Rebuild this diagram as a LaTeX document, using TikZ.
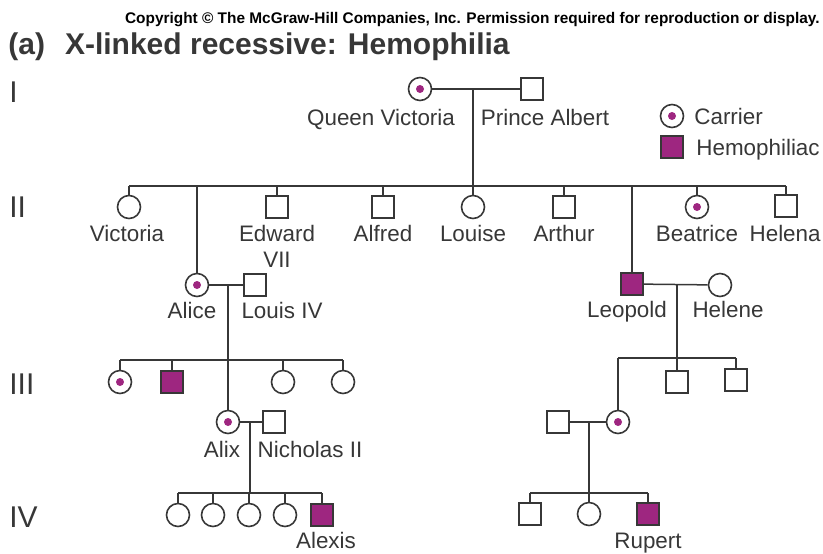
\documentclass[tikz,border=0pt]{standalone}
\usepackage{fontspec}
\setmainfont{Liberation Sans}
\usetikzlibrary{positioning,calc}
\definecolor{hemo}{RGB}{158,38,128}
\definecolor{ink}{RGB}{55,55,55}

\begin{document}
\begin{tikzpicture}[
  x=0.5pt, y=-0.5pt,
  female/.style={circle, draw=ink, line width=0.8pt, minimum size=11.5pt, inner sep=0pt},
  male/.style={rectangle, draw=ink, line width=0.8pt, minimum size=11pt, inner sep=0pt},
  carrier/.style={female, path picture={\fill[hemo] (path picture bounding box.center) circle (2pt);}},
  affected/.style={male, fill=hemo},
  link/.style={draw=ink, line width=0.75pt},
  lbl/.style={anchor=base, inner sep=0pt, text=ink, font=\fontsize{11.2}{13}\selectfont},
  gen/.style={anchor=base west, inner sep=0pt, text=ink, font=\fontsize{15}{18}\selectfont}
]
  \useasboundingbox (0,0) rectangle (823,553);

  \node[anchor=base east, inner sep=0pt, text=black, font=\bfseries\fontsize{7.7}{9}\selectfont] (copy) at (820,23)
    {Copyright \textcopyright{} The McGraw-Hill Companies, Inc. Permission required for reproduction or display.};
  \node[anchor=base west, inner sep=0pt, text=ink, font=\bfseries\fontsize{15}{18}\selectfont] (title) at (8,54)
    {(a)\hspace{10pt}X-linked recessive: Hemophilia};

  \node[gen] (g1) at (9,102) {I};
  \node[gen] (g2) at (9,217) {II};
  \node[gen] (g3) at (9,394) {III};
  \node[gen] (g4) at (9,527) {IV};

  % key
  \node[carrier] (keyc) at (672,116) {};
  \node[affected] (keyh) at (672,147) {};
  \node[lbl, anchor=base west] (keyctxt) at (694,124) {Carrier};
  \node[lbl, anchor=base west] (keyhtxt) at (696,155) {Hemophiliac};

  % generation I
  \node[carrier] (qv) at (420,89) {};
  \node[male] (albert) at (532,89) {};
  \node[lbl] (qvtxt) at (381,125) {Queen Victoria};
  \node[lbl] (alberttxt) at (545,125) {Prince Albert};

  % generation II
  \node[female] (vic) at (129,207) {};
  \node[male] (edward) at (277,207) {};
  \node[male] (alfred) at (383,207) {};
  \node[female] (louise) at (473,207) {};
  \node[male] (arthur) at (564,207) {};
  \node[carrier] (beatrice) at (697,207) {};
  \node[male] (helena) at (786,206) {};
  \node[carrier] (alice) at (197,285) {};
  \node[male] (louis) at (255,285) {};
  \node[affected] (leopold) at (632,284) {};
  \node[female] (helene) at (720,285) {};

  \node[lbl] (victxt) at (127,241) {Victoria};
  \node[lbl] (edwardtxt) at (277,241) {Edward};
  \node[lbl] (edwardno) at (277,267) {VII};
  \node[lbl] (alfredtxt) at (383,241) {Alfred};
  \node[lbl] (louisetxt) at (473,241) {Louise};
  \node[lbl] (arthurtxt) at (564,241) {Arthur};
  \node[lbl] (beatricetxt) at (697,241) {Beatrice};
  \node[lbl, anchor=base east] (helenatxt) at (821,241) {Helena};
  \node[lbl] (alicetxt) at (192,318) {Alice};
  \node[lbl] (louistxt) at (282,318) {Louis IV};
  \node[lbl] (leopoldtxt) at (627,317) {Leopold};
  \node[lbl] (helenetxt) at (728,317) {Helene};

  % generation III
  \node[carrier] (hesse1) at (120,382) {};
  \node[affected] (hesse2) at (172,382) {};
  \node[female] (hesse3) at (283,382) {};
  \node[female] (hesse4) at (343,382) {};
  \node[carrier] (alix) at (228,422) {};
  \node[male] (nicholas) at (274,422) {};
  \node[carrier] (athlone) at (618,422) {};
  \node[male] (albany2) at (677,382) {};
  \node[male] (albany3) at (736,380) {};
  \node[male] (spouse) at (558,422) {};

  \node[lbl] (alixtxt) at (222,457) {Alix};
  \node[lbl] (nicholastxt) at (310,457) {Nicholas II};

  % generation IV
  \node[female] (rom1) at (178,515) {};
  \node[female] (rom2) at (213,515) {};
  \node[female] (rom3) at (249,515) {};
  \node[female] (rom4) at (285,515) {};
  \node[affected] (alexis) at (322,515) {};
  \node[male] (ath1) at (530,514) {};
  \node[female] (ath2) at (589,514) {};
  \node[affected] (rupert) at (648,514) {};

  \node[lbl] (alexistxt) at (326,548) {Alexis};
  \node[lbl] (ruperttxt) at (648,548) {Rupert};

  % matings and sibships
  \coordinate (wed1) at (473,89);
  \coordinate (bar2w) at (129,186);
  \coordinate (bar2e) at (786,186);
  \draw[link] (qv) -- (albert);
  \draw[link] (wed1) -- (louise.north);
  \draw[link] (bar2w) -- (bar2e);
  \foreach \kid in {vic,edward,alfred,arthur,beatrice,helena,alice,leopold}
    \draw[link] (\kid.north) -- (\kid.north |- bar2w);

  \coordinate (wed2) at (alix |- alice);
  \coordinate (bar3w) at (120,360);
  \coordinate (bar3e) at (343,360);
  \draw[link] (alice) -- (louis);
  \draw[link] (wed2) -- (alix.north);
  \draw[link] (bar3w) -- (bar3e);
  \foreach \kid in {hesse1,hesse2,hesse3,hesse4}
    \draw[link] (\kid.north) -- (\kid.north |- bar3w);

  \coordinate (wed3) at (250,422);
  \coordinate (bar4w) at (178,493);
  \coordinate (bar4e) at (322,493);
  \draw[link] (alix) -- (nicholas);
  \draw[link] (wed3) -- (wed3 |- bar4w);
  \draw[link] (bar4w) -- (bar4e);
  \foreach \kid in {rom1,rom2,rom3,rom4,alexis}
    \draw[link] (\kid.north) -- (\kid.north |- bar4w);

  \coordinate (wed4) at (albany2 |- leopold);
  \coordinate (bar5w) at (618,358);
  \coordinate (bar5e) at (736,358);
  \draw[link] (leopold) -- (helene);
  \draw[link] (wed4) -- (albany2.north);
  \draw[link] (bar5w) -- (bar5e);
  \foreach \kid in {athlone,albany3}
    \draw[link] (\kid.north) -- (\kid.north |- bar5w);

  \coordinate (wed5) at (ath2 |- athlone);
  \coordinate (bar6w) at (530,493);
  \coordinate (bar6e) at (648,493);
  \draw[link] (spouse) -- (athlone);
  \draw[link] (wed5) -- (ath2.north);
  \draw[link] (bar6w) -- (bar6e);
  \foreach \kid in {ath1,rupert}
    \draw[link] (\kid.north) -- (\kid.north |- bar6w);
\end{tikzpicture}
\end{document}
